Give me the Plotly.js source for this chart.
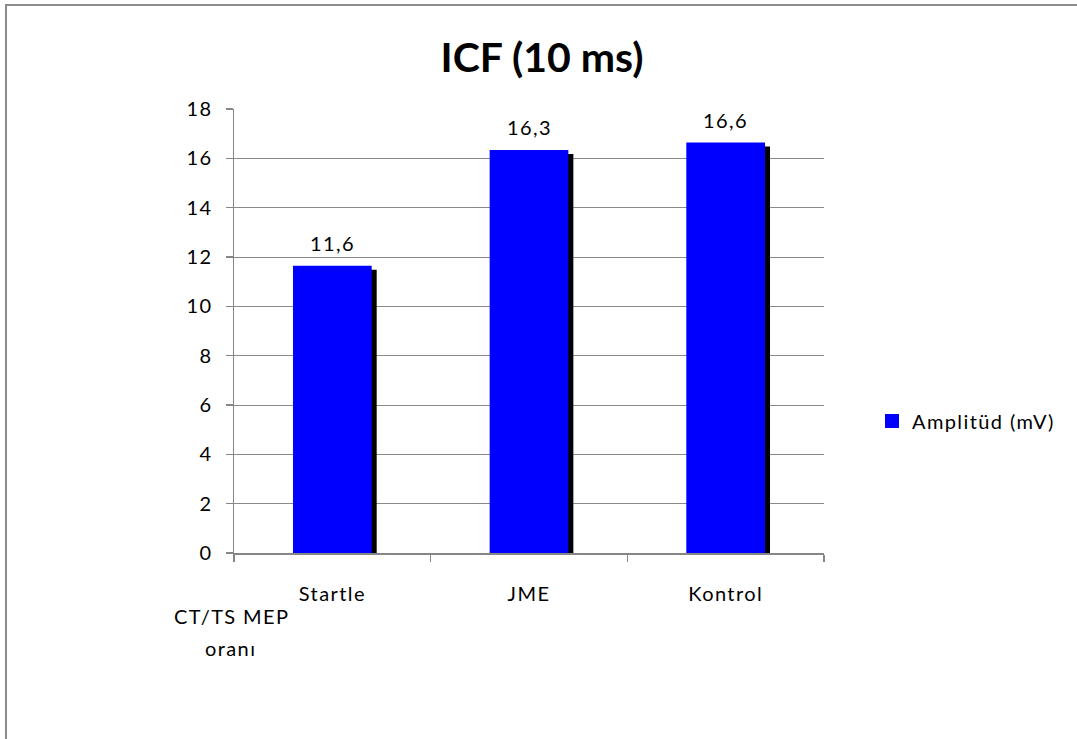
<!DOCTYPE html>
<html>
<head>
<meta charset="utf-8">
<script src="https://cdn.plot.ly/plotly-3.0.1.min.js"></script>
<style>
  html, body { margin: 0; padding: 0; background: #fff; overflow: hidden; }
  #chart { position: absolute; left: 0; top: 0; width: 1077px; height: 739px; }
  /* wider tracking for the regular-weight labels */
  .xtick text, .ytick text, text.legendtext, text.annotation-text {
    letter-spacing: 1.4px;
  }
</style>
</head>
<body>
<div id="chart"></div>
<script>
// ICF (10 ms) amplitude per group
const categories = ['Startle', 'JME', 'Kontrol'];
const amplitudes = [11.6, 16.3, 16.6];
const seriesName = 'Amplitüd (mV)';
const yTicks = [0, 2, 4, 6, 8, 10, 12, 14, 16, 18];

const W = 1077, H = 739;
const margin = { l: 234, r: 253, t: 109, b: 186 };
const yMax = 18;
const plotH = H - margin.t - margin.b;
const plotW = W - margin.l - margin.r;
const pxPerUnit = plotH / yMax;
const pxPerCat = plotW / categories.length;

// pixel position -> paper fraction
const px = x => (x - margin.l) / plotW;
const py = y => (H - margin.b - y) / plotH;

const barWidth = 0.39;
const shadowDx = 5 / pxPerCat;     // shadow shift to the right, in category units
const shadowDy = 4 / pxPerUnit;    // shadow shift downward, in value units

const font = 'Lato, "Open Sans", sans-serif';
const labelSize = 20;

const shadow = {
  type: 'bar',
  x: categories,
  y: amplitudes.map(v => v - shadowDy),
  width: barWidth,
  offset: -barWidth / 2 + shadowDx,
  marker: { color: '#000000', line: { color: '#000000', width: 2 } },
  showlegend: false,
  hoverinfo: 'skip'
};

const bars = {
  type: 'bar',
  name: seriesName,
  x: categories,
  y: amplitudes,
  width: barWidth,
  offset: -barWidth / 2,
  marker: { color: '#0000ff', line: { color: '#0000ff', width: 2 } }
};

const fmt = v => v.toFixed(1).replace('.', ',');

const valueLabels = categories.map((c, i) => ({
  x: c, y: amplitudes[i], xref: 'x', yref: 'y',
  text: fmt(amplitudes[i]), showarrow: false,
  yanchor: 'bottom', yshift: 10,
  font: { family: font, size: labelSize, color: '#000' }
}));

const axisTitle = [
  { text: 'CT/TS MEP', x: 231, y: 616 },
  { text: 'oranı', x: 230, y: 648 }
].map(a => ({
  text: a.text, showarrow: false,
  xref: 'paper', yref: 'paper',
  x: px(a.x), y: py(a.y),
  xanchor: 'center', yanchor: 'middle',
  font: { family: font, size: labelSize, color: '#000' }
}));

// chart-area frame: left and top edges
const frameLine = { color: '#8c8c8c', width: 2 };
const frame = [
  { type: 'line', xref: 'paper', yref: 'paper', x0: px(6), x1: px(6), y0: py(4), y1: py(H + 5), line: frameLine },
  { type: 'line', xref: 'paper', yref: 'paper', x0: px(5), x1: px(W + 5), y0: py(5), y1: py(5), line: frameLine }
];

const layout = {
  width: W, height: H,
  margin: margin,
  paper_bgcolor: '#ffffff',
  plot_bgcolor: 'rgba(0,0,0,0)',
  barmode: 'overlay',
  title: {
    text: '<b>ICF (10 ms)</b>',
    x: 542 / W, xanchor: 'center', xref: 'container',
    y: 1 - 58 / H, yanchor: 'middle', yref: 'container',
    font: { family: font, size: 41, color: '#000' }
  },
  xaxis: {
    type: 'category',
    showline: true, linecolor: '#868686', linewidth: 1.5,
    ticks: 'outside', tickson: 'boundaries', ticklen: 7, tickcolor: '#868686', tickwidth: 1.5,
    ticklabelstandoff: 22,
    showgrid: false,
    tickfont: { family: font, size: labelSize, color: '#000' },
    fixedrange: true
  },
  yaxis: {
    range: [0, yMax],
    tickvals: yTicks,
    ticktext: yTicks.map(String),
    showline: true, linecolor: '#868686', linewidth: 1.5,
    ticks: 'outside', ticklen: 7, tickcolor: '#868686', tickwidth: 1.5,
    ticklabelstandoff: 9,
    showgrid: true, gridcolor: '#8a8a8a', gridwidth: 1,
    zeroline: false,
    tickfont: { family: font, size: labelSize, color: '#000' },
    fixedrange: true
  },
  legend: {
    x: px(872), xanchor: 'left',
    y: py(421), yanchor: 'middle',
    font: { family: font, size: labelSize, color: '#000' },
    itemwidth: 30,
    bgcolor: 'rgba(0,0,0,0)'
  },
  shapes: frame,
  annotations: valueLabels.concat(axisTitle),
  showlegend: true
};

Plotly.newPlot('chart', [shadow, bars], layout, { displayModeBar: false, staticPlot: true });
</script>
</body>
</html>
